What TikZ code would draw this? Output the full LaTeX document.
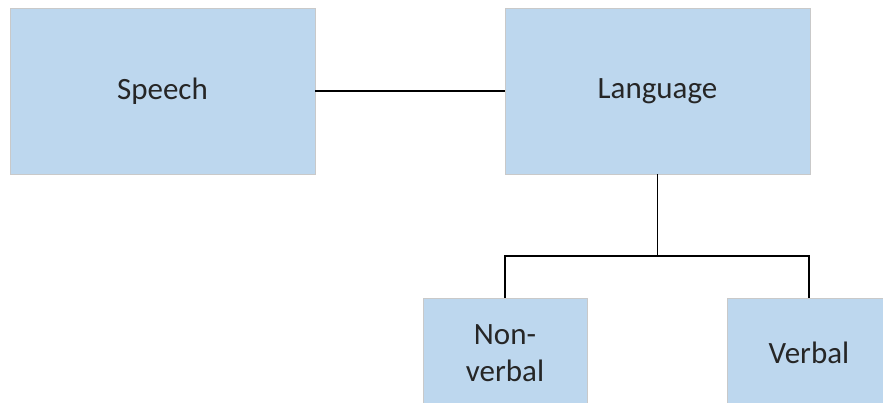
\documentclass[tikz,border=0pt]{standalone}
\usepackage{fontspec}
\setmainfont{Carlito}
\definecolor{boxfill}{HTML}{BDD7EE}
\definecolor{boxline}{HTML}{C9C9C9}
\begin{document}
\begin{tikzpicture}[x=1pt,y=-1pt,
  box/.style={draw=boxline,line width=0.8pt,fill=boxfill,inner sep=0pt,align=center,
    font=\fontsize{31}{37}\selectfont,text=black!85},
  link/.style={draw=black,line width=1.6pt}]
\useasboundingbox (0,0) rectangle (883,403);
\clip (0,0) rectangle (883,403);
\fill[white] (0,0) rectangle (883,403);
\node[box,minimum width=305pt,minimum height=166pt] (speech) at (162.5,91) {Speech};
\node[box,minimum width=305pt,minimum height=166pt] (lang) at (657.5,91) {Language};
\node[box,minimum width=164pt,minimum height=110pt] (nonverbal) at (505,353) {Non-\\verbal};
\node[box,minimum width=164pt,minimum height=110pt] (verbal) at (809,353) {Verbal};
\coordinate (split) at (lang.south |- 0,256);
\draw[link] (speech.east) -- (lang.west);
\draw[link] (lang.south) -- (split);
\draw[link] (split) -| (nonverbal.north);
\draw[link] (split) -| (verbal.north);
\end{tikzpicture}
\end{document}
